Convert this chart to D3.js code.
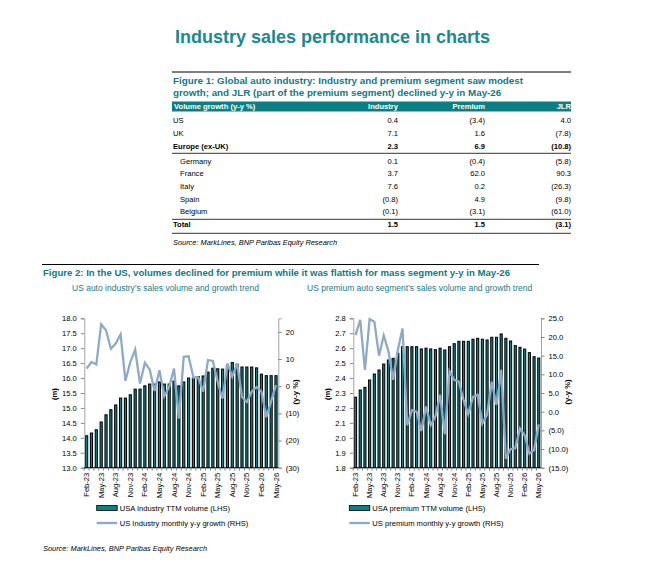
<!DOCTYPE html>
<html>
<head>
<meta charset="utf-8">
<script src="https://cdn.jsdelivr.net/npm/d3@7"></script>
<style>
  body { margin: 0; background: #fff; }
  svg { font-family: "Liberation Sans", Arial, sans-serif; }
  .tick text { fill: #000; }
</style>
</head>
<body>
<div id="chart"></div>
<script>
// ---- data ----
var tableRegions = ["US", "UK", "Europe (ex-UK)", "Germany", "France", "Italy", "Spain", "Belgium", "Total"];
var tableIndustry = [0.4, 7.1, 2.3, 0.1, 3.7, 7.6, -0.8, -0.1, 1.5];
var tablePremium = [-3.4, 1.6, 6.9, -0.4, 62.0, 0.2, 4.9, -3.1, 1.5];
var tableJLR = [4.0, -7.8, -10.8, -5.8, 90.3, -26.3, -9.8, -61.0, -3.1];
var tableBold = ["Europe (ex-UK)", "Total"];
var tableIndent = ["Germany", "France", "Italy", "Spain", "Belgium"];

var months = ["Feb-23","Mar-23","Apr-23","May-23","Jun-23","Jul-23","Aug-23","Sep-23","Oct-23","Nov-23","Dec-23",
  "Jan-24","Feb-24","Mar-24","Apr-24","May-24","Jun-24","Jul-24","Aug-24","Sep-24","Oct-24","Nov-24","Dec-24",
  "Jan-25","Feb-25","Mar-25","Apr-25","May-25","Jun-25","Jul-25","Aug-25","Sep-25","Oct-25","Nov-25","Dec-25",
  "Jan-26","Feb-26","Mar-26","Apr-26","May-26"];

var industryVolume = [14.07, 14.16, 14.27, 14.53, 14.77, 14.94, 15.1, 15.33, 15.33, 15.44, 15.63, 15.63, 15.74, 15.8,
  15.8, 15.87, 15.8, 15.8, 15.9, 15.74, 15.87, 16.0, 16.0, 16.05, 16.07, 16.2, 16.33, 16.31, 16.3, 16.42,
  16.52, 16.46, 16.37, 16.37, 16.37, 16.34, 16.13, 16.08, 16.08, 16.08];
var industryGrowth = [6.5, 8.9, 8, 22.8, 20.6, 13.8, 15.7, 19.1, 2, 8.9, 13.5, 1, 8.6, 6.1, -1.8, 5.9, -3.7, -0.2,
  6.5, -11.9, 10.8, 11, 3.2, 3.2, -2, 9.6, 9.3, 1.6, -4.6, 8.4, 3.5, 8.4, -4, -5.8, -2, -0.3, -2, -11.4, -5.5, 0.4];

var premiumVolume = [2.272, 2.32, 2.338, 2.387, 2.427, 2.454, 2.494, 2.521, 2.532, 2.566, 2.61, 2.61, 2.61, 2.61,
  2.595, 2.6, 2.595, 2.59, 2.6, 2.588, 2.61, 2.63, 2.646, 2.646, 2.646, 2.66, 2.666, 2.66, 2.655, 2.673,
  2.673, 2.695, 2.666, 2.648, 2.617, 2.606, 2.594, 2.57, 2.543, 2.534];
var premiumGrowth = [20.5, 24.6, 11.2, 24.8, 24.1, 15, 20.4, 16.2, 8.5, 16.5, 22.3, -3.6, 0.4, 0, -5.2, 1.4, -3.6,
  -1.3, 4.5, -6, 10.8, 8.5, 8, 3.1, -0.7, 4, 4.5, -3.2, -0.7, 8, 1.8, 11.2, -12.6, -10, -9.8, -4.5, -6.3,
  -11.2, -10.3, -3.4];

var industryLeftTicks = [13.0, 13.5, 14.0, 14.5, 15.0, 15.5, 16.0, 16.5, 17.0, 17.5, 18.0];
var industryRightTicks = [-30, -20, -10, 0, 10, 20];
var premiumLeftTicks = [1.8, 1.9, 2.0, 2.1, 2.2, 2.3, 2.4, 2.5, 2.6, 2.7, 2.8];
var premiumRightTicks = [-15, -10, -5, 0, 5, 10, 15, 20, 25];

var teal = "#0f7f86";
var titleTeal = "#178a94";
var lineBlue = "#8eaac6";

var svg = d3.select("#chart").append("svg")
    .attr("width", 653)
    .attr("height", 572);

// ---- page header ----
svg.append("text")
    .attr("x", 175).attr("y", 43)
    .style("font-size", "18px").style("font-weight", "bold")
    .style("fill", titleTeal)
    .text("Industry sales performance in charts");

svg.append("line")
    .attr("x1", 172).attr("x2", 571).attr("y1", 72).attr("y2", 72)
    .style("stroke", "#000").style("stroke-width", 1);

svg.selectAll(".fig1cap")
    .data(["Figure 1: Global auto industry: Industry and premium segment saw modest",
           "growth; and JLR (part of the premium segment) declined y-y in May-26"])
  .enter().append("text")
    .attr("x", 173)
    .attr("y", function(d, i) { return 84 + i * 11.5; })
    .style("font-size", "9.8px").style("font-weight", "bold")
    .style("fill", "#0f7a84")
    .text(function(d) { return d; });

// ---- table ----
function fmt1(v) {
  var s = Math.abs(v).toFixed(1);
  return v < 0 ? "(" + s + ")" : s;
}
function fmt0(v) {
  var s = Math.abs(v).toFixed(0);
  return v < 0 ? "(" + s + ")" : s;
}

var tbl = svg.append("g").style("font-size", "7.6px");
tbl.append("rect")
    .attr("x", 172).attr("y", 101.5).attr("width", 399).attr("height", 10)
    .style("fill", "#0a8084");

var headers = [["Volume growth (y-y %)", 174, "start"], ["Industry", 398, "end"], ["Premium", 485, "end"], ["JLR", 571, "end"]];
tbl.selectAll(".hdr")
    .data(headers)
  .enter().append("text")
    .attr("x", function(d) { return d[1]; })
    .attr("y", 109.3)
    .style("text-anchor", function(d) { return d[2]; })
    .style("fill", "#fff").style("font-weight", "bold")
    .text(function(d) { return d[0]; });

// rows below the Europe rule sit a little lower
function rowY(i) { return 123.3 + i * 12.6 + (i >= 3 ? 2.6 : 0); }

var rows = tbl.selectAll(".row")
    .data(tableRegions)
  .enter().append("g")
    .attr("transform", function(d, i) { return "translate(0," + rowY(i) + ")"; })
    .style("font-weight", function(d) { return tableBold.indexOf(d) >= 0 ? "bold" : "normal"; });

rows.append("text")
    .attr("x", function(d) { return tableIndent.indexOf(d) >= 0 ? 180 : 173; })
    .text(function(d) { return d; });
rows.append("text")
    .attr("x", 398).style("text-anchor", "end")
    .text(function(d, i) { return fmt1(tableIndustry[i]); });
rows.append("text")
    .attr("x", 485).style("text-anchor", "end")
    .text(function(d, i) { return fmt1(tablePremium[i]); });
rows.append("text")
    .attr("x", 571).style("text-anchor", "end")
    .text(function(d, i) { return fmt1(tableJLR[i]); });

[153.3, 219.3, 233.3].forEach(function(y) {
  tbl.append("line")
      .attr("x1", 172).attr("x2", 571).attr("y1", y).attr("y2", y)
      .style("stroke", "#000").style("stroke-width", 0.8);
});

svg.append("text")
    .attr("x", 173).attr("y", 244.5)
    .style("font-size", "7.4px").style("font-style", "italic")
    .text("Source: MarkLines, BNP Paribas Equity Research");

// ---- figure 2 header ----
svg.append("line")
    .attr("x1", 42).attr("x2", 539).attr("y1", 264.5).attr("y2", 264.5)
    .style("stroke", "#000").style("stroke-width", 1);

svg.append("text")
    .attr("x", 43).attr("y", 276)
    .style("font-size", "9.6px").style("font-weight", "bold")
    .style("fill", "#0f7a84")
    .text("Figure 2: In the US, volumes declined for premium while it was flattish for mass segment y-y in May-26");

svg.append("text")
    .attr("x", 72).attr("y", 290.5)
    .style("font-size", "8.5px").style("fill", "#1a7c88")
    .text("US auto industry\u2019s sales volume and growth trend");
svg.append("text")
    .attr("x", 307).attr("y", 290.5)
    .style("font-size", "8.5px").style("fill", "#1a7c88")
    .text("US premium auto segment\u2019s sales volume and growth trend");

// ---- combo chart ----
function comboChart(opt) {
  var g = svg.append("g");
  var x = d3.scaleBand().domain(months).range([opt.x0, opt.x1]).paddingInner(0.55).paddingOuter(0.25);
  var yL = d3.scaleLinear().domain(opt.leftDomain).range([467.7, 318.3]);
  var yR = d3.scaleLinear().domain(opt.rightDomain).range([467.7, 318.3]);

  g.selectAll(".bar")
      .data(opt.bars)
    .enter().append("rect")
      .attr("x", function(d, i) { return x(months[i]); })
      .attr("y", function(d) { return yL(d); })
      .attr("width", x.bandwidth())
      .attr("height", function(d) { return yL(opt.leftDomain[0]) - yL(d); })
      .style("fill", teal)
      .style("stroke", "#000")
      .style("stroke-width", 1);

  var line = d3.line()
      .x(function(d, i) { return x(months[i]) + x.bandwidth() / 2; })
      .y(function(d) { return yR(d); });

  g.append("path")
      .datum(opt.growth)
      .attr("d", line)
      .style("fill", "none")
      .style("stroke", lineBlue)
      .style("stroke-width", 2.3)
      .style("stroke-linejoin", "miter");

  // left axis
  var axL = g.append("g")
      .attr("transform", "translate(" + opt.x0 + ",0)")
      .call(d3.axisLeft(yL).tickValues(opt.leftTicks).tickSize(3.5).tickPadding(4)
        .tickFormat(d3.format(opt.leftFmt)));
  // right axis
  var axR = g.append("g")
      .attr("transform", "translate(" + opt.x1 + ",0)")
      .call(d3.axisRight(yR).tickValues(opt.rightTicks).tickSize(3.5).tickPadding(4)
        .tickFormat(opt.rightFmt));
  // bottom axis
  var step = x.step();
  var axB = g.append("g")
      .attr("transform", "translate(0,467.7)")
      .call(d3.axisBottom(x).tickSize(3).tickPadding(3)
        .tickFormat(function(d, i) { return i % 3 === 0 ? d : ""; }));
  axB.selectAll(".tick line")
      .attr("x1", -step / 2).attr("x2", -step / 2);
  axB.selectAll(".tick text")
      .attr("transform", "rotate(-90)")
      .attr("x", -5).attr("y", 0).attr("dy", "0.33em")
      .style("text-anchor", "end");

  [axL, axR, axB].forEach(function(a) {
    a.selectAll("path").style("stroke", "#9a9a9a").style("stroke-width", 0.9);
    a.selectAll("line").style("stroke", "#7a7a7a").style("stroke-width", 0.9);
    a.selectAll("text").style("font-size", "7.6px").style("font-family", "Liberation Sans, Arial, sans-serif");
  });
  axB.select(".domain").remove();
  axB.append("line").attr("x1", opt.x0).attr("x2", opt.x1)
      .style("stroke", "#000").style("stroke-width", 0.9);

  g.append("text")
      .attr("transform", "translate(" + opt.mLabelX + ",394) rotate(-90)")
      .style("text-anchor", "middle").style("font-size", "7.6px").style("font-weight", "bold")
      .text("(m)");
  g.append("text")
      .attr("transform", "translate(" + opt.yyLabelX + ",392) rotate(-90)")
      .style("text-anchor", "middle").style("font-size", "7.6px").style("font-weight", "bold")
      .text("(y-y %)");

  // legend
  var lg = g.append("g").style("font-size", "7.6px");
  lg.append("rect")
      .attr("x", opt.legendX).attr("y", 505.5).attr("width", 20.5).attr("height", 5)
      .style("fill", teal).style("stroke", "#000").style("stroke-width", 0.8);
  lg.append("text").attr("x", opt.legendX + 23).attr("y", 511).text(opt.barLabel);
  lg.append("line")
      .attr("x1", opt.legendX).attr("x2", opt.legendX + 20.5).attr("y1", 523).attr("y2", 523)
      .style("stroke", lineBlue).style("stroke-width", 2.3);
  lg.append("text").attr("x", opt.legendX + 23).attr("y", 526).text(opt.lineLabel);
}

comboChart({
  x0: 84.3, x1: 278.3,
  bars: industryVolume, growth: industryGrowth,
  leftDomain: [13, 18], rightDomain: [-30, 25],
  leftTicks: industryLeftTicks, rightTicks: industryRightTicks,
  leftFmt: ".1f", rightFmt: fmt0,
  mLabelX: 57, yyLabelX: 298,
  legendX: 96.7,
  barLabel: "USA Industry TTM volume (LHS)",
  lineLabel: "US Industry monthly y-y growth (RHS)"
});

comboChart({
  x0: 353.3, x1: 541,
  bars: premiumVolume, growth: premiumGrowth,
  leftDomain: [1.8, 2.8], rightDomain: [-15, 25],
  leftTicks: premiumLeftTicks, rightTicks: premiumRightTicks,
  leftFmt: ".1f", rightFmt: fmt1,
  mLabelX: 330, yyLabelX: 570,
  legendX: 349.3,
  barLabel: "USA premium TTM volume (LHS)",
  lineLabel: "US premium monthly y-y growth (RHS)"
});

svg.append("text")
    .attr("x", 43).attr("y", 550.5)
    .style("font-size", "7.4px").style("font-style", "italic")
    .text("Source: MarkLines, BNP Paribas Equity Research");
</script>
</body>
</html>
